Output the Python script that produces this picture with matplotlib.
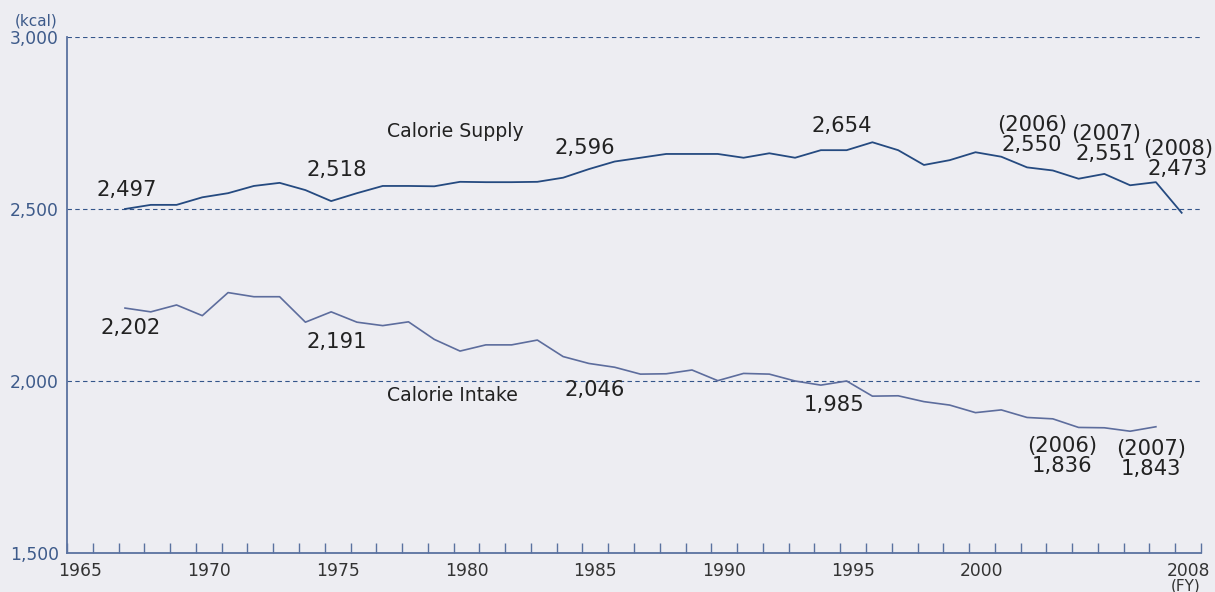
import matplotlib.pyplot as plt

# calorie supply / intake per person per day (kcal)
supply_years = list(range(1967, 2009))
supply = [2500, 2512, 2512, 2534, 2546, 2567, 2576, 2555, 2523, 2546,
          2567, 2567, 2566, 2579, 2578, 2578, 2579, 2591, 2616, 2638,
          2649, 2660, 2660, 2660, 2649, 2662, 2649, 2671, 2671, 2694,
          2671, 2628, 2642, 2665, 2652, 2621, 2612, 2588, 2602, 2569,
          2578, 2489]

intake_years = list(range(1967, 2008))
intake = [2212, 2201, 2221, 2190, 2257, 2245, 2245, 2171, 2201, 2171,
          2161, 2172, 2121, 2087, 2105, 2105, 2119, 2071, 2051, 2040,
          2020, 2021, 2032, 2001, 2022, 2020, 2000, 1988, 2000, 1956,
          1957, 1940, 1930, 1908, 1916, 1894, 1890, 1865, 1864, 1854,
          1867]

xtick_years = [1965, 1970, 1975, 1980, 1985, 1990, 1995, 2000, 2008]
ytick_vals = [1500, 2000, 2500, 3000]
grid_vals = [2000, 2500, 3000]

# value labels as printed on the chart
labels = [
    ("2,497", 1967.06, 2554),
    ("2,518", 1975.2, 2612),
    ("2,596", 1984.85, 2676),
    ("2,654", 1994.8, 2741),
    ("(2006)\n2,550", 2002.2, 2714),
    ("(2007)\n2,551", 2005.05, 2688),
    ("(2008)\n2,473", 2007.85, 2645),
    ("2,202", 1967.2, 2155),
    ("2,191", 1975.2, 2113),
    ("2,046", 1985.23, 1974),
    ("1,985", 1994.52, 1929),
    ("(2006)\n1,836", 2003.35, 1783),
    ("(2007)\n1,843", 2006.82, 1773),
]
series_names = [("Calorie Supply", 1979.83, 2724), ("Calorie Intake", 1979.7, 1959)]

bg = "#ededf2"
axis_c = "#5a72a0"
grid_c = "#34558a"
sup_c = "#254a80"
int_c = "#5d6d9d"
text_c = "#222222"

W, H = 1215, 592
fig = plt.figure(figsize=(W / 100, H / 100), dpi=100, facecolor=bg)
ax = fig.add_axes([67 / W, 1 - 553 / H, (1201 - 67) / W, (553 - 37) / H])
ax.set_facecolor(bg)
ax.set_xlim(1964.75, 2008.75)
ax.set_ylim(1500, 3000)

for v in grid_vals:
    ax.axhline(v, color=grid_c, lw=0.8, ls=(0, (4, 3)), zorder=1)

ax.plot(supply_years, supply, color=sup_c, lw=1.3, zorder=3)
ax.plot(intake_years, intake, color=int_c, lw=1.2, zorder=3)

for s in ["top", "right"]:
    ax.spines[s].set_visible(False)
for s in ["left", "bottom"]:
    ax.spines[s].set_color(axis_c)
    ax.spines[s].set_linewidth(1.3)

ax.set_xticks([y + 0.25 for y in xtick_years])
ax.set_xticklabels([str(y) for y in xtick_years])
ax.set_xticks([1964.75 + i for i in range(45)], minor=True)
ax.tick_params(axis="x", which="major", length=0, pad=6.5, labelsize=12.3, labelcolor="#333333")
ax.tick_params(axis="x", which="minor", direction="in", length=7, width=1.0, color=axis_c)

ax.set_yticks(ytick_vals)
ax.set_yticklabels([f"{v:,}" for v in ytick_vals])
ax.tick_params(axis="y", length=0, pad=6, labelsize=12.3, labelcolor="#3d5a8a")

for txt, x, y in labels:
    ax.text(x, y, txt, ha="center", va="center", fontsize=15.2, color=text_c,
            linespacing=1.0)
for txt, x, y in series_names:
    ax.text(x, y, txt, ha="center", va="center", fontsize=13.6, color=text_c)

fig.text(36.5 / W, 1 - 21 / H, "(kcal)", ha="center", va="center", fontsize=11, color="#3d5a8a")
fig.text(1186 / W, 1 - 586 / H, "(FY)", ha="center", va="center", fontsize=11, color="#333333")

fig.savefig("out.png", dpi=100, facecolor=bg)
